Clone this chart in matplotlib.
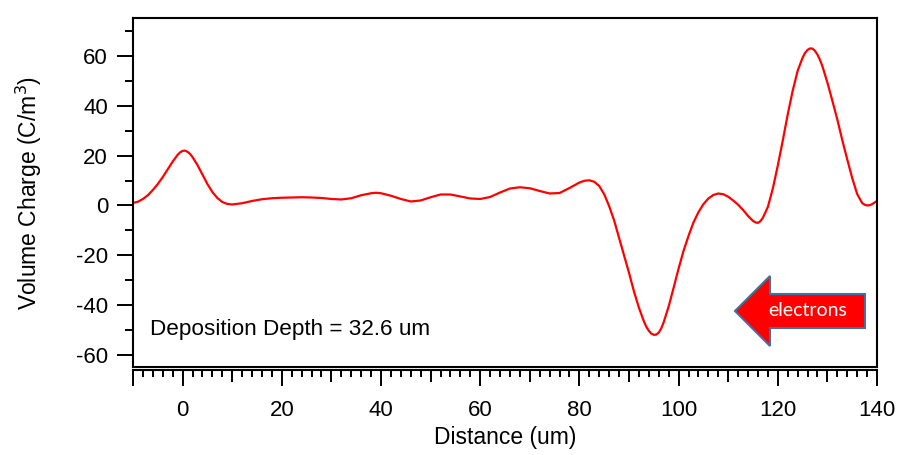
import numpy as np
import matplotlib
matplotlib.use("Agg")
import matplotlib.pyplot as plt
from matplotlib.patches import FancyArrow
from matplotlib.lines import Line2D

plt.rcParams['font.family'] = ['Liberation Sans', 'DejaVu Sans']
plt.rcParams['axes.unicode_minus'] = False

# ---- data ----
distance = [-10, -9, -8, -7, -6, -5, -4, -3, -2, -1, -0.5, 0, 0.5, 1, 1.5, 2, 3, 4, 5, 6, 7,
            8, 9, 10, 12, 14, 16, 18, 20, 22, 24, 26, 28, 30, 32, 34, 36, 38, 39, 40, 42,
            44, 46, 48, 50, 52, 54, 56, 58, 60, 62, 64, 66, 68, 70, 72, 74, 76, 78, 80,
            81, 82, 83, 84, 85, 86, 87, 88, 89, 90, 91, 92, 93, 93.5, 94, 94.5, 95, 95.5,
            96, 96.5, 97, 98, 99, 100, 101, 102, 103, 104, 105, 106, 107, 108, 109, 110,
            111, 112, 113, 114, 115, 115.5, 116, 116.5, 117, 118, 119, 120, 121, 122,
            123, 124, 125, 125.5, 126, 126.5, 127, 127.5, 128, 128.5, 129, 130, 131, 132,
            133, 134, 135, 136, 137, 137.5, 138, 138.5, 139, 140]
charge = [1.0, 1.5, 2.6, 4.1, 6.2, 8.6, 11.4, 14.5, 17.6, 20.3, 21.3, 21.9, 22.0, 21.5,
          20.7, 19.4, 16.2, 12.4, 8.6, 5.4, 3.0, 1.4, 0.6, 0.4,
          0.9, 1.8, 2.5, 2.9, 3.1, 3.2, 3.3, 3.2, 3.0, 2.6, 2.4, 2.9, 4.1, 4.9, 5.1, 4.9,
          3.9, 2.6, 1.6, 2.0, 3.3, 4.4, 4.4, 3.6, 2.8, 2.6, 3.4, 5.2, 6.8, 7.3, 6.9, 5.8,
          4.8, 5.0, 7.0, 9.2, 9.9, 10.1, 9.5, 7.8, 4.5, -0.3, -6.0, -13.0, -20.0, -27.0,
          -34.5, -41.0, -46.5, -48.7, -50.3, -51.4, -51.9, -51.8, -51.0, -49.3, -46.8,
          -40.5, -33.0, -25.3, -18.2, -12.2, -6.8, -2.7, 0.5, 2.8, 4.2, 4.8, 4.5, 3.5,
          2.0, 0.3, -1.8, -4.2, -6.2, -6.8, -7.0, -6.3, -4.9, -0.6, 6.8, 16.0, 26.0,
          36.5, 46.0, 54.0, 59.3, 61.2, 62.4, 63.0, 62.9, 62.0, 60.5, 58.4, 55.8, 49.3,
          42.0, 34.5, 26.2, 18.5, 11.0, 4.6, 1.0, 0.3, 0.0, 0.1, 0.5, 1.8]

x_major = [-10, 0, 20, 40, 60, 80, 100, 120, 140]
x_labels = ['', '0', '20', '40', '60', '80', '100', '120', '140']
x_medium = [10, 30, 50, 70, 90, 110, 130]
x_minor = [v for v in range(-8, 140, 2) if v % 10 != 0]
y_major = [-60, -40, -20, 0, 20, 40, 60]
y_minor = [-50, -30, -10, 10, 30, 50, 70]

fig = plt.figure(figsize=(8.97, 4.55), dpi=100)
ax = fig.add_axes([133/897, 1 - 367/455, (877 - 133)/897, (367 - 18)/455])

ax.plot(distance, charge, color='#ff0000', lw=1.6, solid_capstyle='round',
        solid_joinstyle='round')
ax.set_xlim(-10, 140)
ax.set_ylim(-64.8, 75.2)

for s in ax.spines.values():
    s.set_linewidth(1.5)
ax.spines['bottom'].set_position(('outward', 2.4))
# frame line along the bottom of the plot area
ax.add_line(Line2D([0, 1], [0, 0], transform=ax.transAxes, color='black',
                   lw=1.5, clip_on=False))

ax.set_xticks(x_major, labels=x_labels)
ax.set_xticks(x_minor, minor=True)
ax.set_yticks(y_major)
ax.set_yticks(y_minor, minor=True)
ax.tick_params(axis='x', which='major', length=11.3, width=1.4, direction='out',
               labelsize=16, pad=10)
ax.tick_params(axis='x', which='minor', length=5.2, width=1.4, direction='out')
ax.tick_params(axis='y', which='major', length=11.5, width=1.4, direction='out',
               labelsize=16, pad=6.5)
ax.tick_params(axis='y', which='minor', length=5.8, width=1.4, direction='out')

sec = ax.secondary_xaxis('bottom')
sec.spines['bottom'].set_position(('outward', 2.4))
sec.spines['bottom'].set_visible(False)
sec.set_xticks(x_medium)
sec.tick_params(axis='x', which='major', length=8.4, width=1.4, labelbottom=False)
sec.tick_params(axis='x', which='minor', length=0)

ax.set_xlabel('Distance (um)', fontsize=16.5)
ax.xaxis.set_label_coords(0.5, (367 - 426) / 349)
ax.set_ylabel('Volume Charge (C/m$^3$)', fontsize=16.5)
ax.yaxis.set_label_coords((44 - 133) / 744, 0.5)

ax.text(0.0228, 0.0917, 'Deposition Depth = 32.6 um', transform=ax.transAxes,
        fontsize=16.2, ha='left', va='baseline')

arrow = FancyArrow(865/897, 1 - 311/455, -(865 - 735)/897, 0,
                   width=34/455, head_width=70/455, head_length=35/897,
                   length_includes_head=True, transform=fig.transFigure,
                   facecolor='#ff0000', edgecolor='#41719C', lw=1.5)
fig.patches.append(arrow)
fig.text(808/897, 1 - 311/455, 'electrons', color='white', fontsize=14,
         family=['Lato', 'DejaVu Sans'], ha='center', va='center')

fig.savefig('out.png', dpi=100)
